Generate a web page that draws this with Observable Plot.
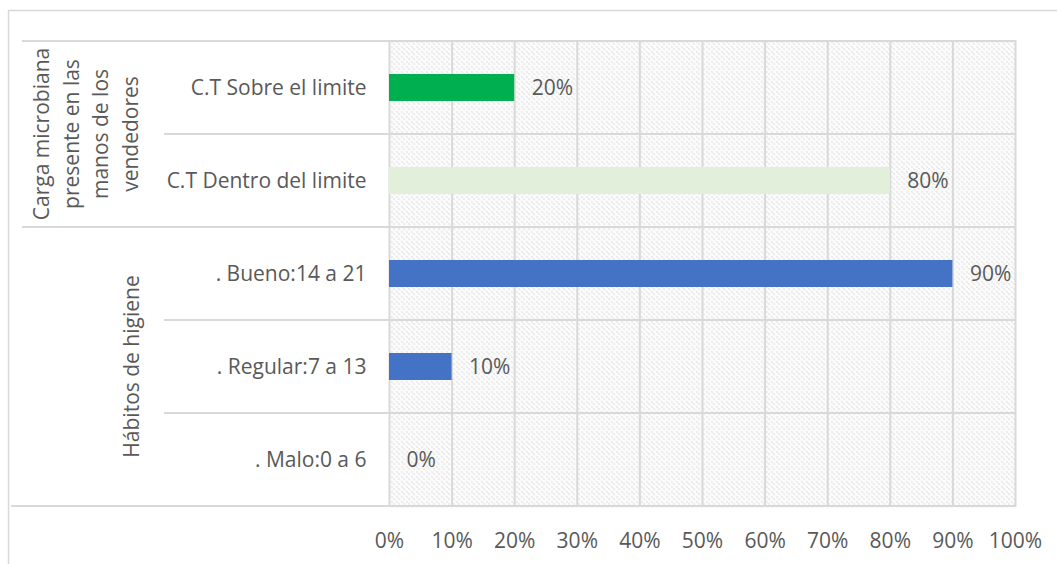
<!DOCTYPE html>
<html>
<head>
<meta charset="utf-8">
<script src="https://cdn.jsdelivr.net/npm/d3@7"></script>
<script src="https://cdn.jsdelivr.net/npm/@observablehq/plot@0.6"></script>
<style>
  html, body { margin: 0; padding: 0; background: #fff; }
  #chart svg { display: block; }
</style>
</head>
<body>
<div id="chart"></div>
<script>
// ---- data ----
const categories = ["C.T Sobre el limite", "C.T Dentro del limite", ". Bueno:14 a 21", ". Regular:7 a 13", ". Malo:0 a 6"];
const values = [0.20, 0.80, 0.90, 0.10, 0.00];
const barColors = ["#00B050", "#E2EFDA", "#4472C4", "#4472C4", "#4472C4"];
const groupLabels = [
  ["Carga microbiana", "presente en las", "manos de los", "vendedores"],
  ["Hábitos de higiene"]
];
const groupMembers = [
  ["C.T Sobre el limite", "C.T Dentro del limite"],
  [". Bueno:14 a 21", ". Regular:7 a 13", ". Malo:0 a 6"]
];
const xTicks = [0, 0.1, 0.2, 0.3, 0.4, 0.5, 0.6, 0.7, 0.8, 0.9, 1.0];

const rows = categories.map((c, i) => ({cat: c, value: values[i], color: barColors[i]}));

const FONT = "'Open Sans', sans-serif";
const FS = 21;
const TEXT = "#595959";
const GRID = "#d9d9d9";

const plot = Plot.plot({
  width: 1057,
  height: 564,
  marginLeft: 389,
  marginRight: 42,
  marginTop: 40,
  marginBottom: 57,
  style: {fontFamily: FONT, fontSize: FS + "px", color: TEXT, background: "#fff"},
  x: {domain: [0, 1], ticks: xTicks, tickFormat: d3.format(".0%"), tickSize: 0, tickPadding: 26, label: null},
  y: {domain: categories, padding: 0, tickSize: 0, tickPadding: 23, label: null},
  marks: [
    Plot.frame({fill: "url(#hatch)", stroke: null}),
    Plot.ruleX(xTicks, {stroke: GRID, strokeWidth: 2, strokeOpacity: 1}),
    Plot.barX(rows, {y: "cat", x: "value", fill: "color", insetTop: 33, insetBottom: 33}),
    Plot.text(rows, {y: "cat", x: "value", text: d => d3.format(".0%")(d.value), textAnchor: "start", dx: 17, fill: TEXT, fontSize: FS})
  ]
});

const svg = d3.select(plot);
// hatch pattern
const defs = svg.insert("defs", ":first-child");
const pat = defs.append("pattern").attr("id", "hatch").attr("patternUnits", "userSpaceOnUse")
  .attr("width", 5).attr("height", 5);
pat.append("rect").attr("width", 5).attr("height", 5).attr("fill", "#ffffff");
pat.append("path").attr("d", "M-1,-1 L6,6 M-1,4 L1,6 M4,-1 L6,1")
  .attr("stroke", "#cfcfcf").attr("stroke-width", 1.2).attr("stroke-dasharray", "1.6,1.2");

const y = plot.scale("y");
const x = plot.scale("x");
const bw = y.bandwidth;
const xR = x.apply(1);
const g = svg.append("g").attr("stroke", GRID).attr("stroke-width", 2).attr("fill", "none");

// outer chart border
svg.append("rect").attr("x", 8.5).attr("y", 10.5).attr("width", 1200).attr("height", 700)
  .attr("fill", "none").attr("stroke", GRID).attr("stroke-width", 1.5);

// category boundaries
categories.forEach((c, i) => {
  const yb = y.apply(c) + bw;
  if (i < categories.length - 1) {
    const isGroupEnd = groupMembers.some(m => m[m.length - 1] === c);
    g.append("line").attr("x1", isGroupEnd ? 22 : 164).attr("x2", xR)
      .attr("y1", yb).attr("y2", yb);
  }
});
// top and bottom
const yTop = y.apply(categories[0]);
const yBot = y.apply(categories[categories.length - 1]) + bw;
g.append("line").attr("x1", 22).attr("x2", xR).attr("y1", yTop).attr("y2", yTop);
g.append("line").attr("x1", 11).attr("x2", xR).attr("y1", yBot).attr("y2", yBot);

// group labels (rotated)
const gl = svg.append("g").attr("fill", TEXT).attr("font-family", FONT).attr("font-size", FS);
groupMembers.forEach((m, gi) => {
  const y0 = y.apply(m[0]);
  const y1 = y.apply(m[m.length - 1]) + bw;
  const cy = (y0 + y1) / 2;
  const lines = groupLabels[gi];
  const lh = 29.5;
  const cx = gi === 0 ? 86 : 132;
  lines.forEach((t, li) => {
    const lx = cx + (li - (lines.length - 1) / 2) * lh;
    gl.append("text").attr("transform", `translate(${lx},${cy}) rotate(-90)`)
      .attr("text-anchor", "middle").attr("dy", "0.35em").text(t);
  });
});

document.getElementById("chart").appendChild(plot);
</script>
</body>
</html>
